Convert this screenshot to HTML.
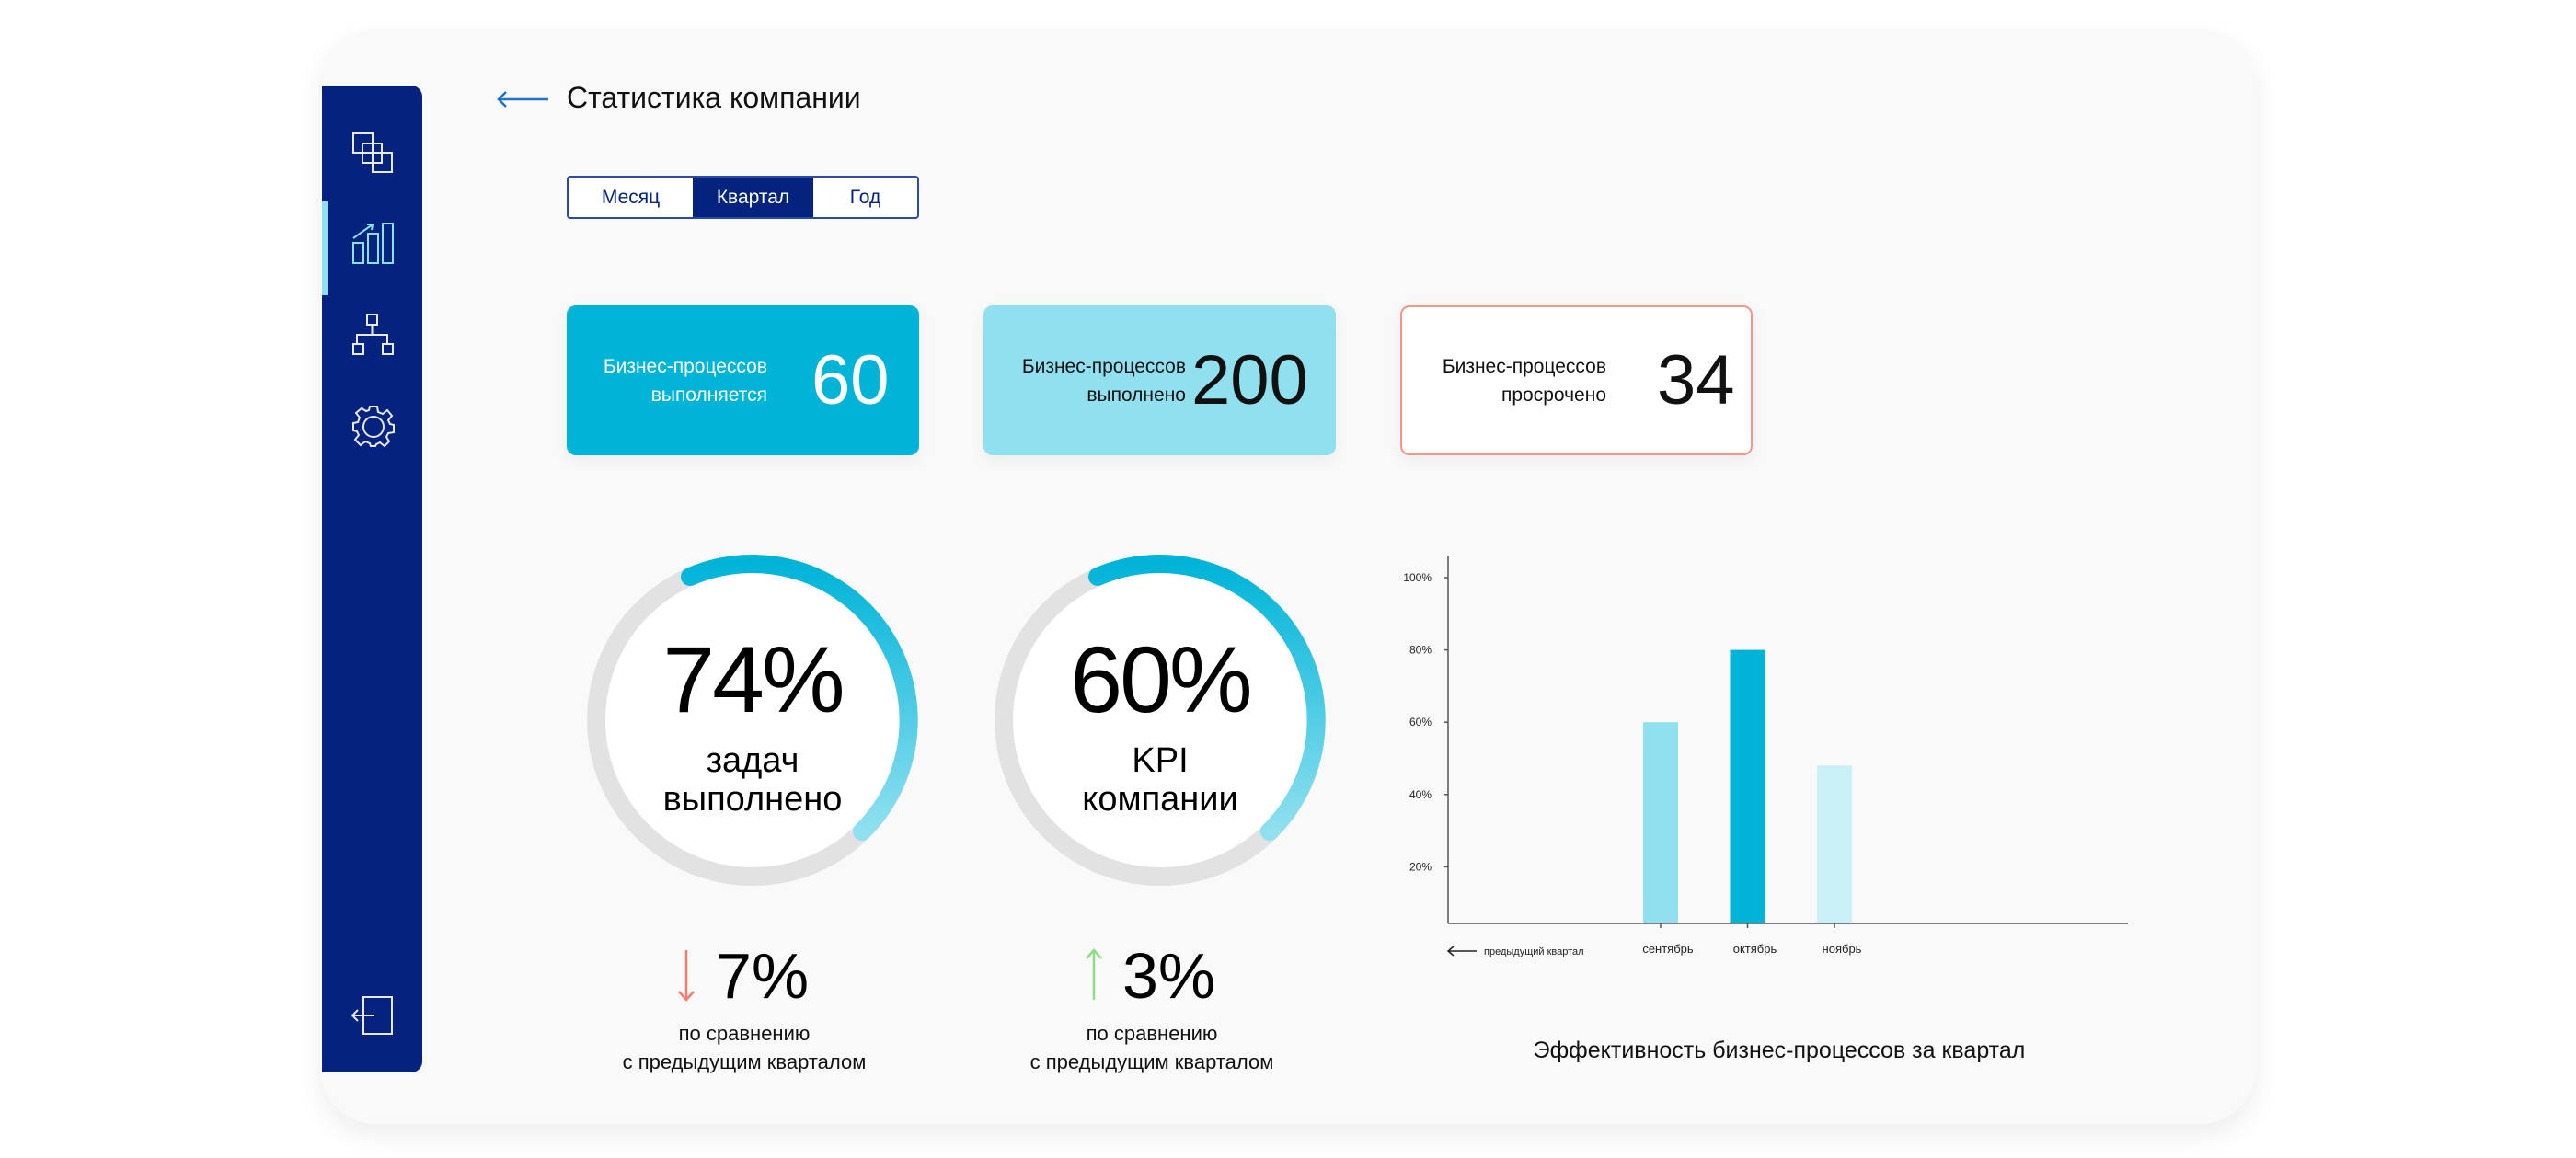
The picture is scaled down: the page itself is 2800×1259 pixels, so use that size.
<!DOCTYPE html>
<html><head><meta charset="utf-8"><style>
*{margin:0;padding:0;box-sizing:border-box}
body{width:2800px;height:1259px;background:#fff;font-family:"Liberation Sans",sans-serif;position:relative;overflow:hidden}
.abs{position:absolute}
#panel{left:348px;top:32px;width:2104px;height:1190px;background:#f9f9f9;border-radius:60px;box-shadow:0 12px 30px rgba(0,0,0,0.07)}
#sidebar{left:350px;top:93px;width:109px;height:1073px;background:#03237f;border-radius:0 12px 12px 0}
.tab{position:absolute;top:0;height:43px;font-size:21px;color:#03237f;display:flex;align-items:center;justify-content:center}
.card{position:absolute;top:332px;width:383px;height:163px;border-radius:10px;display:flex;align-items:center;box-shadow:0 6px 16px rgba(0,0,0,0.05)}
.card .lbl{font-size:21px;line-height:31px;text-align:right;width:222px}
.card .num{font-size:76px;margin-left:12px}
.sub{font-size:22px;line-height:31px;text-align:center;color:#111}
.big{font-size:102px;line-height:102px;text-align:center;color:#000;letter-spacing:-3px}
.lab{font-size:38px;line-height:42px;text-align:center;color:#000}
</style></head><body>
<div id="panel" class="abs"></div>
<div id="sidebar" class="abs">
  <div class="abs" style="left:0;top:126px;width:6px;height:102px;background:#8ee0ef"></div>
  <svg class="abs" style="left:33px;top:51px" width="44" height="44" fill="none" stroke="#e8e8f0" stroke-width="2"><rect x="1" y="1" width="21" height="21"/><rect x="11" y="12" width="21" height="21"/><rect x="22" y="22" width="21" height="21"/></svg>
  <svg class="abs" style="left:33px;top:149px" width="46" height="46" fill="none" stroke="#8ee0ef" stroke-width="2"><rect x="1" y="22" width="11" height="22"/><rect x="17" y="12" width="11" height="32"/><rect x="33" y="1" width="11" height="43"/><path d="M1 17 L22 2 M16 2 L22 2 L21 8"/></svg>
  <svg class="abs" style="left:33px;top:248px" width="46" height="46" fill="none" stroke="#e8e8f0" stroke-width="2"><rect x="16" y="1" width="11" height="11"/><path d="M21.5 12 V23 M5 34 V23 H38 V34"/><rect x="1" y="33" width="11" height="11"/><rect x="33" y="33" width="11" height="11"/></svg>
  <svg class="abs" style="left:33px;top:347px" width="46" height="46" fill="none" stroke="#e8e8f0" stroke-width="2"><path d="M19 2 H27 L28 8 L33 10 L38 6 L43 12 L39 17 L41 21 L45 22 V30 L39 31 L37 35 L40 40 L35 45 L30 41 L26 43 L25 45 H20 L19 42 L14 40 L9 44 L3 38 L7 33 L5 29 L1 28 V20 L6 19 L8 14 L4 9 L10 4 L15 7 L18 6 Z"/><circle cx="23" cy="24" r="11"/></svg>
  <svg class="abs" style="left:31px;top:990px" width="48" height="44" fill="none" stroke="#e8e8f0" stroke-width="2"><rect x="14" y="1" width="31" height="40"/><path d="M26 21 H2 M8 15 L2 21 L8 27"/></svg>
</div>

<svg class="abs" style="left:540px;top:97px" width="58" height="22"><path d="M2 11 H56 M10 3 L2 11 L10 19" fill="none" stroke="#1f72c8" stroke-width="2.5"/></svg>
<div class="abs" style="left:616px;top:88px;font-size:32px;color:#111">Статистика компании</div>

<div class="abs" style="left:616px;top:191px;width:383px;height:47px;border:2px solid #2a4aa8;border-radius:4px;background:#fff;overflow:hidden">
  <div class="tab" style="left:0;width:135px">Месяц</div>
  <div class="tab" style="left:135px;width:131px;background:#03237f;color:#fff">Квартал</div>
  <div class="tab" style="left:266px;width:113px">Год</div>
</div>

<div class="card" style="left:616px;background:#00b4d8;color:#fff"><div class="lbl" style="width:218px">Бизнес-процессов<br>выполняется</div><div class="num" style="margin-left:48px">60</div></div>
<div class="card" style="left:1069px;background:#90e0ef;color:#111"><div class="lbl" style="width:220px">Бизнес-процессов<br>выполнено</div><div class="num" style="margin-left:6px">200</div></div>
<div class="card" style="left:1522px;background:#fff;border:2px solid #f6958a;color:#111"><div class="lbl">Бизнес-процессов<br>просрочено</div><div class="num" style="margin-left:55px">34</div></div>

<svg class="abs" style="left:0;top:0" width="2800" height="1259">
  <defs><linearGradient id="g" x1="0" y1="0" x2="0" y2="1"><stop offset="0" stop-color="#00b4d8"/><stop offset="1" stop-color="#90e0ef"/></linearGradient></defs>
  <g>
    <circle cx="818" cy="783" r="170" fill="#fff" stroke="#e2e2e2" stroke-width="20"/>
    <path d="M750 627 A170 170 0 0 1 937 904" fill="none" stroke="url(#g)" stroke-width="20" stroke-linecap="round"/>
  </g>
  <g>
    <circle cx="1261" cy="783" r="170" fill="#fff" stroke="#e2e2e2" stroke-width="20"/>
    <path d="M1193 627 A170 170 0 0 1 1380 904" fill="none" stroke="url(#g)" stroke-width="20" stroke-linecap="round"/>
  </g>
</svg>
<div class="abs big" style="left:618px;top:688px;width:400px">74%</div>
<div class="abs lab" style="left:618px;top:806px;width:400px">задач<br>выполнено</div>
<div class="abs big" style="left:1061px;top:688px;width:400px">60%</div>
<div class="abs lab" style="left:1061px;top:806px;width:400px">KPI<br>компании</div>

<svg class="abs" style="left:735px;top:1031px" width="22" height="60"><path d="M11 2 V56 M3 47 L11 56 L19 47" fill="none" stroke="#f47c70" stroke-width="2.5"/></svg>
<div class="abs" style="left:778px;top:1024px;font-size:70px;line-height:74px">7%</div>
<div class="abs sub" style="left:659px;top:1108px;width:300px">по сравнению<br>с предыдущим кварталом</div>
<svg class="abs" style="left:1178px;top:1029px" width="22" height="60"><path d="M11 58 V4 M3 13 L11 4 L19 13" fill="none" stroke="#8fdc84" stroke-width="2.5"/></svg>
<div class="abs" style="left:1220px;top:1024px;font-size:70px;line-height:74px">3%</div>
<div class="abs sub" style="left:1102px;top:1108px;width:300px">по сравнению<br>с предыдущим кварталом</div>

<svg id="chart" class="abs" style="left:0;top:0" width="2800" height="1259"></svg>
<div class="abs" style="left:1634px;top:1128px;width:600px;text-align:center;font-size:25px;color:#111">Эффективность бизнес-процессов за квартал</div>

<script>
const categories = ["сентябрь", "октябрь", "ноябрь"];
const values = [60, 80, 48];
const tickValues = [20, 40, 60, 80, 100];
const tickLabels = ["20%", "40%", "60%", "80%", "100%"];
const barColors = ["#90e0ef", "#00b4d8", "#caf0f8"];

const NS = "http://www.w3.org/2000/svg";
const svg = document.getElementById("chart");
const axisX = 1574, baseY = 1004, axisTop = 604, axisRight = 2313;
function yScale(v){ return 1021 - v * 3.93; }
function xScale(i){ return 1805 + i * 94.5; }
const barW = 38;
function mk(tag, attrs){ const e = document.createElementNS(NS, tag); for (const k in attrs) e.setAttribute(k, attrs[k]); svg.appendChild(e); return e; }

const ya = mk("line", {x1:axisX, y1:axisTop, x2:axisX, y2:baseY, stroke:"#555", "stroke-width":1.5});


const xa = mk("line", {x1:axisX, y1:baseY, x2:axisRight, y2:baseY, stroke:"#555", "stroke-width":1.5});



tickValues.forEach((v, i) => {
  const y = yScale(v);
  const t = mk("line", {x1:axisX-4, y1:y, x2:axisX, y2:y, stroke:"#555", "stroke-width":1.5});
  
  
  const l = mk("text", {x:axisX-18, y:y+4, "text-anchor":"end", "font-size":12, fill:"#222", "font-family":"Liberation Sans, sans-serif"});
  l.textContent = tickLabels[i];
  
  
});

categories.forEach((c, i) => {
  const cx = xScale(i);
  const top = yScale(values[i]);
  const b = mk("rect", {x:cx - barW/2, y:top, width:barW, height:baseY - top, fill:barColors[i]});
  
  
  const t = mk("line", {x1:cx, y1:baseY, x2:cx, y2:baseY+5, stroke:"#555", "stroke-width":1.5});
  
  
  const l = mk("text", {x:cx+8, y:1036, "text-anchor":"middle", "font-size":13, fill:"#222", "font-family":"Liberation Sans, sans-serif"});
  l.textContent = c;
  
  
});

const pa = mk("path", {d:"M1574 1034 H1605 M1580 1029 L1574 1034 L1580 1039", fill:"none", stroke:"#222", "stroke-width":1.5});


const pl = mk("text", {x:1613, y:1038, "font-size":11, fill:"#222", "font-family":"Liberation Sans, sans-serif"});
pl.textContent = "предыдущий квартал";


</script>
</body></html>
